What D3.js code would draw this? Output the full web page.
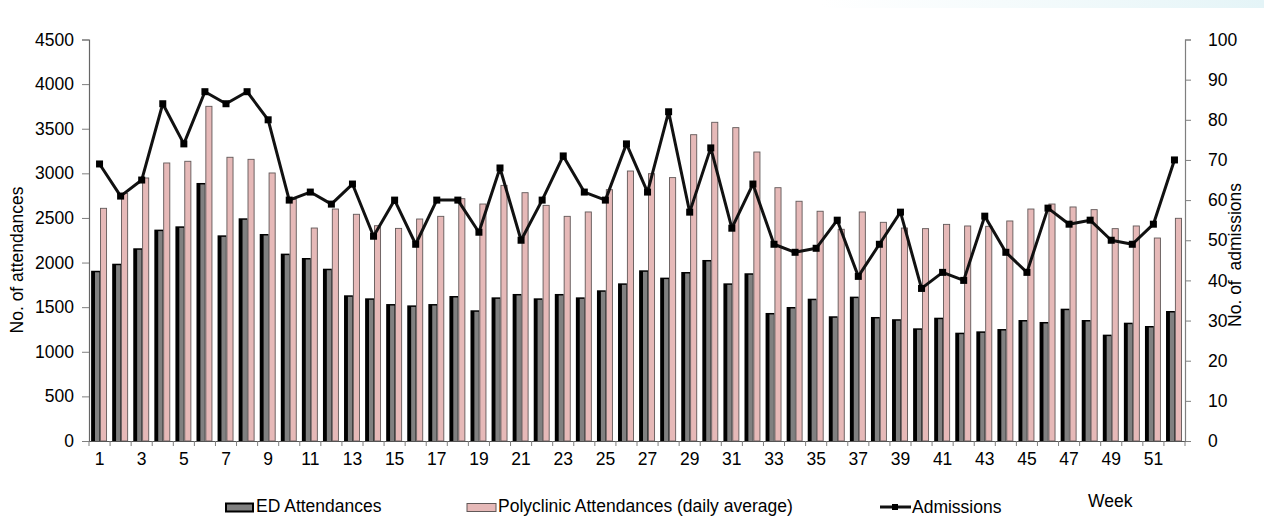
<!DOCTYPE html>
<html>
<head>
<meta charset="utf-8">
<script src="https://cdn.jsdelivr.net/npm/d3@7"></script>
<style>
  html, body { margin: 0; padding: 0; background: #fff; }
  svg { display: block; font-family: "Liberation Sans", Arial, sans-serif; }
  .tick text { font-size: 17.5px; fill: #000; }
</style>
</head>
<body>
<svg id="chart" width="1264" height="524"></svg>
<script>
// Weekly attendances and admissions
const weeks = d3.range(1, 53);
const edAttendances = [1908,1987,2160,2369,2406,2892,2305,2496,2320,2100,
  2051,1931,1633,1599,1535,1520,1535,1625,1465,1610,
  1648,1599,1648,1610,1689,1767,1913,1831,1894,2029,
  1767,1880,1435,1502,1595,1398,1618,1390,1365,1263,
  1382,1214,1229,1255,1356,1334,1483,1356,1192,1326,
  1289,1457];
const polyclinicAttendances = [2608,2776,2948,3116,3135,3751,3180,3157,3004,2709,
  2387,2600,2541,2413,2383,2488,2518,2716,2656,2865,
  2783,2641,2518,2567,2817,3026,2996,2952,3433,3572,
  3512,3239,2839,2687,2575,2373,2567,2451,2387,2380,
  2428,2410,2406,2466,2600,2656,2623,2593,2380,2410,
  2275,2496];
const admissions = [69,61,65,84,74,87,84,87,80,60,
  62,59,64,51,60,49,60,60,52,68,
  50,60,71,62,60,74,62,82,57,73,
  53,64,49,47,48,55,41,49,57,38,
  42,40,56,47,42,58,54,55,50,49,
  54,70];
const leftTicks = d3.range(0, 4501, 500);
const rightTicks = d3.range(0, 101, 10);
const weekLabels = weeks.filter(w => w % 2 === 1);

const svg = d3.select("#chart");
const fs = "17.5px";

// faint band across the top right
const defs = svg.append("defs");
const grad = defs.append("linearGradient").attr("id", "topband");
grad.append("stop").attr("offset", "0%").attr("stop-color", "#e9f6f8").attr("stop-opacity", 0);
grad.append("stop").attr("offset", "100%").attr("stop-color", "#e4f4f7").attr("stop-opacity", 1);
svg.append("rect").attr("x", 820).attr("y", 0).attr("width", 444).attr("height", 8)
  .attr("fill", "url(#topband)");

const plot = { left: 89, right: 1185, top: 39.5, bottom: 441 };

const x = d3.scaleBand().domain(weeks).range([plot.left, plot.right]).padding(0);
const yL = d3.scaleLinear().domain([0, 4500]).range([plot.bottom, plot.top]);
const yR = d3.scaleLinear().domain([0, 100]).range([plot.bottom, plot.top]);
const bw = x.bandwidth();

// ED bars: dark face with a grey front
const ed = svg.append("g").selectAll("g").data(weeks).join("g");
ed.append("rect")
  .attr("x", (w) => x(w) + bw * 0.1)
  .attr("y", (w, i) => yL(edAttendances[i]))
  .attr("width", bw * 0.42)
  .attr("height", (w, i) => plot.bottom - yL(edAttendances[i]))
  .attr("fill", "#000");
ed.append("rect")
  .attr("x", (w) => x(w) + bw * 0.1 + bw * 0.42 * 0.44)
  .attr("y", (w, i) => yL(edAttendances[i]) + 1.5)
  .attr("width", bw * 0.42 * 0.5)
  .attr("height", (w, i) => Math.max(0, plot.bottom - yL(edAttendances[i]) - 1.5))
  .attr("fill", "#808080");

// Polyclinic bars
svg.append("g").selectAll("rect").data(weeks).join("rect")
  .attr("x", (w) => x(w) + bw * 0.52 + 0.5)
  .attr("y", (w, i) => yL(polyclinicAttendances[i]))
  .attr("width", bw * 0.29)
  .attr("height", (w, i) => plot.bottom - yL(polyclinicAttendances[i]))
  .attr("fill", "#e6b9b8")
  .attr("stroke", "#615858")
  .attr("stroke-width", 0.9);

// Axes
const axisColor = "#7f7f7f";
const gL = svg.append("g").attr("transform", `translate(${plot.left},0)`)
  .call(d3.axisLeft(yL).tickValues(leftTicks).tickSize(7).tickPadding(8).tickFormat(d3.format("d")));
const gR = svg.append("g").attr("transform", `translate(${plot.right},0)`)
  .call(d3.axisRight(yR).tickValues(rightTicks).tickSize(6).tickPadding(17).tickFormat(d3.format("d")));
const gX = svg.append("g").attr("transform", `translate(0,${plot.bottom})`)
  .call(d3.axisBottom(x).tickValues(weekLabels).tickSize(0).tickPadding(12));
// week boundary ticks
svg.append("g").selectAll("line").data(d3.range(0, 53)).join("line")
  .attr("x1", (k) => plot.left + k * bw).attr("x2", (k) => plot.left + k * bw)
  .attr("y1", plot.bottom).attr("y2", plot.bottom + 5)
  .attr("stroke", axisColor).attr("stroke-width", 1);
[gL, gR, gX].forEach(g => {
  g.select(".domain").attr("stroke", axisColor).attr("stroke-width", 1.2);
  g.selectAll(".tick line").attr("stroke", axisColor);
  g.selectAll(".tick text").style("font-size", fs);
});
gL.select(".domain").attr("stroke", "#666");
gX.select(".domain").attr("stroke", "#555");

// Admissions line with square markers
const line = d3.line()
  .x((d, i) => x(weeks[i]) + bw / 2)
  .y((d) => yR(d));
svg.append("path").datum(admissions)
  .attr("d", line)
  .attr("fill", "none")
  .attr("stroke", "#111")
  .attr("stroke-width", 3)
  .attr("stroke-linejoin", "round");
svg.append("g").selectAll("rect").data(admissions).join("rect")
  .attr("x", (d, i) => x(weeks[i]) + bw / 2 - 3.5)
  .attr("y", (d) => yR(d) - 3.5)
  .attr("width", 7).attr("height", 7)
  .attr("fill", "#000");

// Axis titles
svg.append("text")
  .attr("transform", "translate(23,260) rotate(-90)")
  .attr("text-anchor", "middle")
  .style("font-size", fs)
  .text("No. of attendances");
svg.append("text")
  .attr("transform", "translate(1241,255) rotate(-90)")
  .attr("text-anchor", "middle")
  .style("font-size", fs)
  .style("white-space", "pre")
  .text("No. of  admissions");
svg.append("text")
  .attr("x", 1088).attr("y", 507)
  .style("font-size", fs)
  .text("Week");

// Legend
const legend = svg.append("g");
legend.append("rect").attr("x", 226).attr("y", 503.5).attr("width", 27).attr("height", 8)
  .attr("fill", "#808080").attr("stroke", "#000").attr("stroke-width", 2);
legend.append("text").attr("x", 256).attr("y", 512).style("font-size", fs).text("ED Attendances");
legend.append("rect").attr("x", 467).attr("y", 503.5).attr("width", 29).attr("height", 8)
  .attr("fill", "#e6b9b8").attr("stroke", "#615858").attr("stroke-width", 1);
legend.append("text").attr("x", 498).attr("y", 512).style("font-size", fs)
  .text("Polyclinic Attendances (daily average)");
legend.append("line").attr("x1", 880).attr("x2", 911).attr("y1", 507).attr("y2", 507)
  .attr("stroke", "#111").attr("stroke-width", 3);
legend.append("rect").attr("x", 892).attr("y", 504).attr("width", 6).attr("height", 6).attr("fill", "#000");
legend.append("text").attr("x", 912).attr("y", 513).style("font-size", fs).text("Admissions");
</script>
</body>
</html>
